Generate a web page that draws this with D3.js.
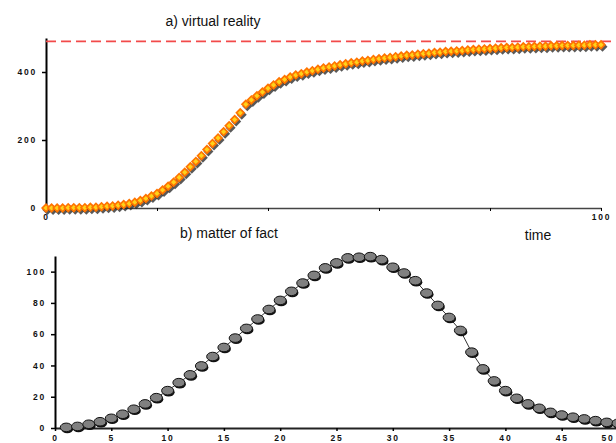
<!DOCTYPE html>
<html>
<head>
<meta charset="utf-8">
<script src="https://cdn.jsdelivr.net/npm/d3@7"></script>
<style>
  body { margin: 0; background: #fff; }
  .tick text { font-family: "Liberation Sans", Arial, sans-serif; font-weight: bold; font-size: 8.5px; letter-spacing: 1.8px; fill: #111; }
  .title { font-family: "Liberation Sans", Arial, sans-serif; font-size: 14px; fill: #111; }
</style>
</head>
<body>
<svg id="chart" width="616" height="443"></svg>
<script>
// a) virtual reality - one value per time step 0..100
const vrTime = d3.range(0, 101);
const vrValues = [
  0, 0, 0, 0, 1, 1, 1, 1, 2, 2,
  4, 5, 6, 8, 10, 13, 17, 22, 28, 35,
  43, 53, 64, 76, 90, 105, 121, 137, 154, 172,
  190, 206, 224, 242, 260, 280, 305, 318, 330, 341,
  352, 362, 371, 378, 385, 391, 395, 400, 404, 408,
  412, 415, 418, 421, 424, 427, 429, 432, 434, 437,
  439, 441, 443, 445, 447, 449, 450, 452, 454, 455,
  457, 458, 460, 461, 462, 463, 465, 466, 467, 468,
  469, 470, 471, 472, 472, 473, 474, 474, 475, 476,
  476, 477, 477, 478, 478, 478, 479, 479, 480, 480, 480
];
const vrLimit = 490;
const vrYTicks = [0, 200, 400];
const vrXTicks = [0, 20, 40, 60, 80, 100];
const vrXLabels = ["0", "", "", "", "", "100"];

// b) matter of fact - time steps 1..50
const factTime = d3.range(1, 51);
const factValues = [
  0.4, 1, 2.4, 4, 6.2, 8.8, 12, 15.4, 19.4, 23.9,
  29, 34, 39.7, 45.7, 51.5, 57.5, 63.7, 69.7, 75.8, 81.6,
  87.4, 92.7, 97.6, 102.4, 105.6, 108.8, 109.2, 109.6, 107.7, 102.8,
  99.1, 94.2, 86.3, 78.4, 70.7, 62.4, 48.5, 37.8, 30.1, 23.9,
  19, 15.4, 12.6, 10, 8.3, 6.9, 5.8, 4.7, 3.6, 3
];
const factYTicks = [0, 20, 40, 60, 80, 100];
const factXTicks = [0, 5, 10, 15, 20, 25, 30, 35, 40, 45, 50];

const svg = d3.select('#chart');

// ---------- top panel ----------
const xTop = d3.scaleLinear().domain([0, 100]).range([46, 601]);
const yTop = d3.scaleLinear().domain([0, 500]).range([208, 38]);

svg.append('text').attr('class', 'title').attr('x', 213).attr('y', 26)
  .attr('text-anchor', 'middle').text('a) virtual reality');

const topX = svg.append('g').attr('transform', 'translate(0,208)')
  .call(d3.axisBottom(xTop).tickValues(vrXTicks)
    .tickFormat((d, i) => vrXLabels[i]).tickSize(3).tickSizeOuter(0));
topX.select('.domain').attr('stroke', '#444').attr('stroke-width', 1.5);
topX.selectAll('.tick text').attr('y', 6);

const topY = svg.append('g').attr('transform', 'translate(46,0)')
  .call(d3.axisLeft(yTop).tickValues(vrYTicks).tickSize(4).tickSizeOuter(0));
topY.select('.domain').attr('stroke', '#000').attr('stroke-width', 2);
topY.selectAll('.tick line').attr('stroke-width', 1.5);
topY.selectAll('.tick text').attr('x', -9);

svg.append('line')
  .attr('x1', xTop(0)).attr('x2', 616)
  .attr('y1', yTop(vrLimit)).attr('y2', yTop(vrLimit))
  .attr('stroke', '#f24a4a').attr('stroke-width', 1.6)
  .attr('stroke-dasharray', '10,5');

const diamond = r => `M0,${-r}L${r},0L0,${r}L${-r},0Z`;
const vrPts = svg.append('g').selectAll('g')
  .data(vrValues).enter().append('g')
  .attr('transform', (d, i) => `translate(${xTop(vrTime[i])},${yTop(d)})`);
vrPts.append('path').attr('d', diamond(5))
  .attr('transform', 'translate(1.5,2)').attr('fill', '#222').attr('opacity', 0.75);
vrPts.append('path').attr('d', diamond(5)).attr('fill', '#ff7400');
vrPts.append('path').attr('d', diamond(2.6)).attr('fill', '#ffd21a');

// ---------- bottom panel ----------
const xBot = d3.scaleLinear().domain([0, 50]).range([55, 618]);
const yBot = d3.scaleLinear().domain([0, 110]).range([428, 256]);

svg.append('text').attr('class', 'title').attr('x', 229).attr('y', 238)
  .attr('text-anchor', 'middle').text('b) matter of fact');
svg.append('text').attr('class', 'title').attr('x', 538).attr('y', 240)
  .attr('text-anchor', 'middle').text('time');

const botX = svg.append('g').attr('transform', 'translate(0,428)')
  .call(d3.axisBottom(xBot).tickValues(factXTicks).tickSize(3).tickSizeOuter(0));
botX.select('.domain').attr('stroke', '#222').attr('stroke-width', 1.8);
botX.selectAll('.tick line').attr('stroke-width', 1.5);
botX.selectAll('.tick text').attr('y', 7);
// last label sits at the window edge, keep it inside
botX.selectAll('.tick text').filter(d => d === 50)
  .attr('text-anchor', 'end').attr('x', -4);

const botY = svg.append('g').attr('transform', 'translate(55,0)')
  .call(d3.axisLeft(yBot).tickValues(factYTicks).tickSize(4).tickSizeOuter(0));
botY.select('.domain').attr('stroke', '#000').attr('stroke-width', 2);
botY.selectAll('.tick line').attr('stroke-width', 1.5);
botY.selectAll('.tick text').attr('x', -9);

svg.append('path')
  .datum(factValues)
  .attr('fill', 'none').attr('stroke', '#333').attr('stroke-width', 1)
  .attr('d', d3.line().x((d, i) => xBot(factTime[i])).y(d => yBot(d)));

const factPts = svg.append('g').selectAll('g')
  .data(factValues).enter().append('g')
  .attr('transform', (d, i) => `translate(${xBot(factTime[i])},${yBot(d)})`);
factPts.append('ellipse').attr('cx', 1).attr('cy', 1.5).attr('rx', 6).attr('ry', 4.3)
  .attr('fill', '#111');
factPts.append('ellipse').attr('rx', 6).attr('ry', 4.3)
  .attr('fill', '#808080').attr('stroke', '#111').attr('stroke-width', 1);
</script>
</body>
</html>
